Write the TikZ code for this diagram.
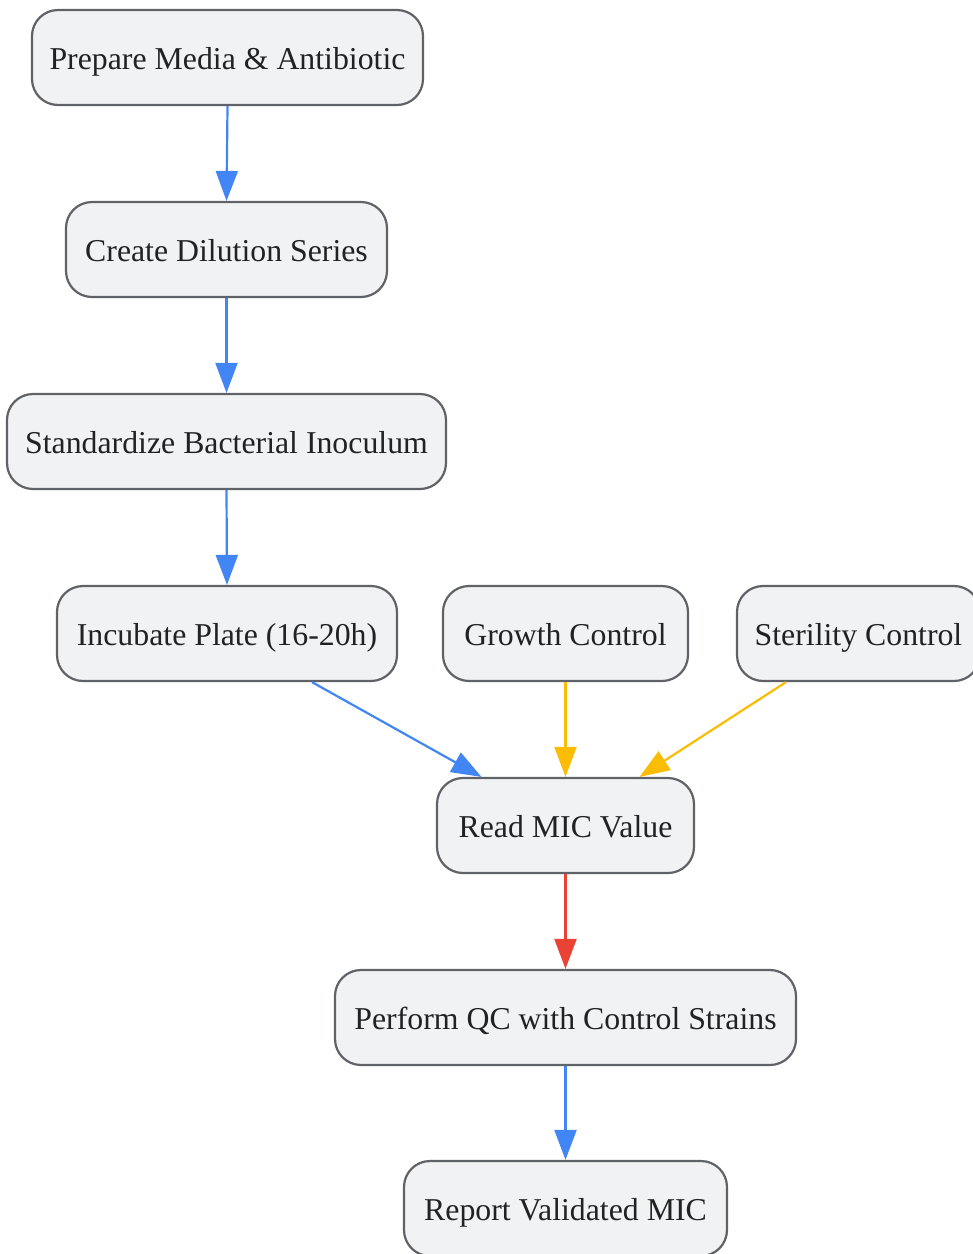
\documentclass[tikz,border=0pt]{standalone}
\usepackage{fontspec}
\setmainfont{Liberation Serif}
\usetikzlibrary{arrows.meta,calc}
\definecolor{boxfill}{HTML}{F1F2F4}
\definecolor{boxdraw}{HTML}{5F6368}
\definecolor{txt}{HTML}{222222}
\definecolor{eblue}{HTML}{4285F4}
\definecolor{eyellow}{HTML}{FBBC04}
\definecolor{ered}{HTML}{EA4335}
\tikzset{
  procbox/.style={draw=boxdraw, fill=boxfill, line width=2.2pt, rounded corners=26pt,
    minimum height=95pt, inner xsep=0pt, inner ysep=0pt, text=txt,
    text height=25pt, text depth=2pt,
    font=\fontsize{31.8}{36}\selectfont, anchor=center},
  flow/.style={line width=2.2pt, -{Triangle[length=30pt,width=22pt]}},
}
\begin{document}
\begin{tikzpicture}[x=1pt,y=1pt]
\useasboundingbox (0,0) rectangle (973,-1254);
\node[procbox, minimum width=391pt] (prep) at (227.5,-57.5) {Prepare Media \& Antibiotic};
\node[procbox, minimum width=321pt] (dil) at (226.5,-249.5) {Create Dilution Series};
\node[procbox, minimum width=439pt] (std) at (226.5,-441.5) {Standardize Bacterial Inoculum};
\node[procbox, minimum width=340pt] (inc) at (227,-633.5) {Incubate Plate (16-20h)};
\node[procbox, minimum width=245pt] (grow) at (565.5,-633.5) {Growth Control};
\node[procbox, minimum width=243pt] (ster) at (858.5,-633.5) {Sterility Control};
\node[procbox, minimum width=257pt] (read) at (565.5,-825.5) {Read MIC Value};
\node[procbox, minimum width=461pt] (qc) at (565.5,-1017.5) {Perform QC with Control Strains};
\node[procbox, minimum width=323pt] (rep) at (565.5,-1208.5) {Report Validated MIC};

\draw[flow, eblue] (prep.south) -- (dil.north);
\draw[flow, eblue] (dil.south) -- (std.north);
\draw[flow, eblue] (std.south) -- (inc.north);
\draw[flow, eblue] ($(inc.south)+(85,0)$) -- ($(read.north)+(-84,0)$);
\draw[flow, eyellow] (grow.south) -- (read.north);
\draw[flow, eyellow] ($(ster.south)+(-72.5,0)$) -- ($(read.north)+(74,0)$);
\draw[flow, ered] (read.south) -- (qc.north);
\draw[flow, eblue] (qc.south) -- (rep.north);
\end{tikzpicture}
\end{document}
